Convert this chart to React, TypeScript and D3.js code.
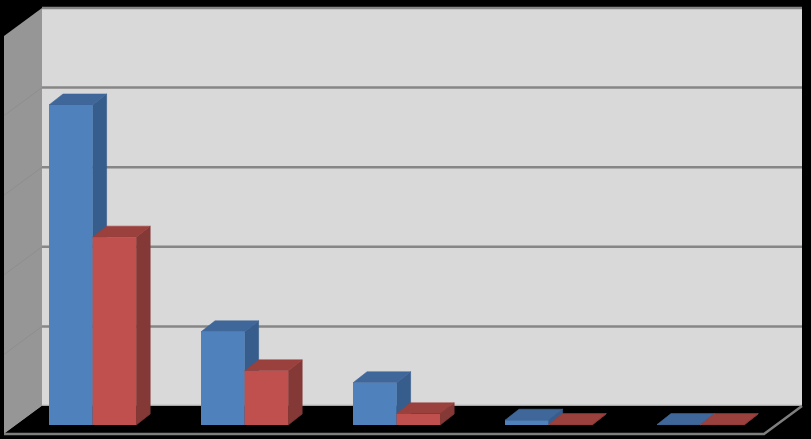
import React from "react";
import * as d3 from "d3";

const categories = ["A", "B", "C", "D", "E"];
const seriesBlue = [4.02, 1.17, 0.53, 0.06, 0.005];
const seriesRed = [2.36, 0.68, 0.14, 0.005, 0.005];
const gridTicks = [0, 1, 2, 3, 4, 5];

const W = 811, H = 439;
const wallL = 42, wallR = 802, wallT = 8, wallB = 406;
const floorDX = -38, floorDY = 28;
const depthX = 14, depthY = 11;

const yBack = d3.scaleLinear().domain([0, 5]).range([wallB, wallT]);
const yBar = d3.scaleLinear().domain([0, 5]).range([425, 425 - (wallB - wallT)]);
const xBand = d3.scaleBand<string>().domain(categories).range([-3, 757]).paddingInner(0).paddingOuter(0);
const barW = 43.6, groupLead = 52;

const pts = (p: [number, number][]) => p.map((q) => q.join(",")).join(" ");

function Bar({ x, v, front, side, top }: { x: number; v: number; front: string; side: string; top: string }) {
  const y1 = yBar(v), y0 = yBar(0);
  const x1 = x + barW;
  return (
    <g>
      <polygon points={pts([[x1, y1], [x1 + depthX, y1 - depthY], [x1 + depthX, y0 - depthY], [x1, y0]])} fill={side} stroke={side} strokeWidth={0.6} />
      <polygon points={pts([[x, y1], [x + depthX, y1 - depthY], [x1 + depthX, y1 - depthY], [x1, y1]])} fill={top} stroke={top} strokeWidth={0.6} />
      <rect x={x} y={y1} width={barW} height={Math.max(y0 - y1, 0)} fill={front} />
    </g>
  );
}

export default function App() {
  const floorFrontY = wallB + floorDY;
  return (
    <svg width={W} height={H} style={{ position: "absolute", left: 0, top: 0, background: "#000" }}>
      <rect x={wallL} y={wallT} width={wallR - wallL} height={wallB - wallT} fill="#d9d9d9" />
      <polygon
        points={pts([[wallL, wallT], [wallL + floorDX, wallT + floorDY], [wallL + floorDX, floorFrontY], [wallL, wallB]])}
        fill="#969696"
      />
      {gridTicks.map((t) => (
        <g key={t}>
          {t > 0 && t < 5 && (
            <line x1={wallL} y1={yBack(t)} x2={wallL + floorDX} y2={yBack(t) + floorDY} stroke="#8e8e8e" strokeWidth={1} />
          )}
          {t > 0 && <line x1={wallL} y1={yBack(t)} x2={wallR} y2={yBack(t)} stroke="#868686" strokeWidth={2.5} />}
        </g>
      ))}
      <line x1={wallL} y1={wallB - 0.5} x2={wallR} y2={wallB - 0.5} stroke="#a6a6a6" strokeWidth={1.5} />
      <polygon points={pts([[wallL, wallB], [wallR, wallB], [wallR + floorDX, floorFrontY], [wallL + floorDX, floorFrontY]])} fill="#000" />
      <polyline
        points={pts([[wallL + floorDX, floorFrontY], [wallR + floorDX, floorFrontY], [wallR, wallB]])}
        fill="none"
        stroke="#7f7f7f"
        strokeWidth={2.5}
      />
      {categories.map((c, i) => {
        const x = (xBand(c) as number) + groupLead;
        return (
          <g key={c}>
            <Bar x={x} v={seriesBlue[i]} front="#4f81bd" side="#375d8c" top="#3f679a" />
            <Bar x={x + barW} v={seriesRed[i]} front="#c0504d" side="#843937" top="#9a403d" />
          </g>
        );
      })}
    </svg>
  );
}
